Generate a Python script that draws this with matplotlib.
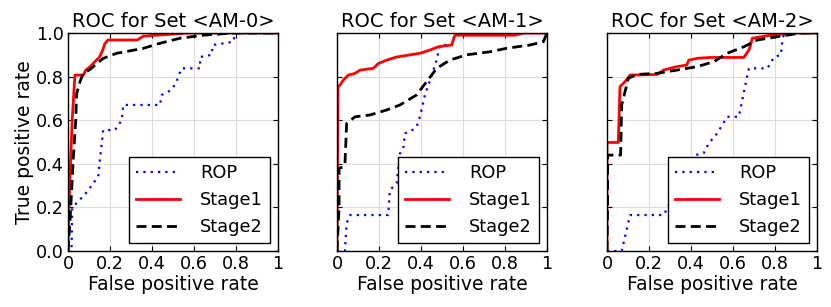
import matplotlib
matplotlib.use("Agg")
import matplotlib.pyplot as plt

# panel titles and axis text
titles = ["ROC for Set <AM-0>", "ROC for Set <AM-1>", "ROC for Set <AM-2>"]
x_ticks = [0, 0.2, 0.4, 0.6, 0.8, 1.0]
x_ticklabels = ["0", "0.2", "0.4", "0.6", "0.8", "1"]
y_ticks = [0, 0.2, 0.4, 0.6, 0.8, 1.0]
y_ticklabels = ["0.0", "0.2", "0.4", "0.6", "0.8", "1.0"]
series_names = ["ROP", "Stage1", "Stage2"]

# AM-0
rop0_fpr = [0, 0.017, 0.02, 0.041, 0.081, 0.12, 0.144, 0.152, 0.168, 0.224, 0.256, 0.263,
            0.438, 0.446, 0.494, 0.517, 0.54, 0.629, 0.629, 0.684, 0.69, 0.787, 0.795, 0.8, 1.0]
rop0_tpr = [0, 0, 0.2, 0.22, 0.26, 0.31, 0.34, 0.42, 0.555, 0.555, 0.6, 0.67,
            0.67, 0.715, 0.74, 0.777, 0.838, 0.838, 0.89, 0.9, 0.945, 0.96, 0.99, 1.0, 1.0]
st1_0_fpr = [0, 0.005, 0.01, 0.02, 0.033, 0.073, 0.085, 0.105, 0.13, 0.15, 0.165, 0.175,
             0.19, 0.33, 0.36, 0.42, 0.5, 0.565, 1.0]
st1_0_tpr = [0, 0.2, 0.356, 0.6, 0.807, 0.807, 0.83, 0.845, 0.87, 0.89, 0.92, 0.95,
             0.968, 0.968, 0.986, 0.99, 0.995, 1.0, 1.0]
st2_0_fpr = [0, 0.01, 0.025, 0.037, 0.041, 0.057, 0.073, 0.105, 0.137, 0.168, 0.232,
             0.359, 0.438, 0.533, 0.644, 0.787, 1.0]
st2_0_tpr = [0, 0.14, 0.42, 0.6, 0.72, 0.777, 0.815, 0.833, 0.86, 0.884, 0.907,
             0.93, 0.953, 0.976, 0.99, 1.0, 1.0]

# AM-1
rop1_fpr = [0, 0.038, 0.046, 0.062, 0.244, 0.252, 0.284, 0.3, 0.316, 0.324, 0.348, 0.379,
            0.395, 0.419, 0.443, 0.475, 0.49, 0.546, 0.562, 1.0]
rop1_tpr = [0, 0, 0.127, 0.165, 0.165, 0.28, 0.31, 0.448, 0.47, 0.54, 0.547, 0.57,
            0.616, 0.716, 0.784, 0.876, 0.945, 0.945, 1.0, 1.0]
st1_1_fpr = [0, 0.005, 0.014, 0.03, 0.054, 0.086, 0.11, 0.173, 0.197, 0.237, 0.284, 0.348,
             0.395, 0.443, 0.483, 0.546, 0.562, 0.848, 0.887, 1.0]
st1_1_tpr = [0, 0.754, 0.76, 0.784, 0.807, 0.815, 0.83, 0.838, 0.86, 0.876, 0.89, 0.9,
             0.907, 0.922, 0.937, 0.945, 0.99, 0.99, 1.0, 1.0]
st2_1_fpr = [0, 0.01, 0.01, 0.03, 0.038, 0.046, 0.086, 0.157, 0.237, 0.3, 0.379, 0.427,
             0.475, 0.538, 0.617, 0.729, 0.808, 0.919, 0.983, 1.0]
st2_1_tpr = [0, 0.2, 0.38, 0.385, 0.4, 0.585, 0.616, 0.624, 0.647, 0.67, 0.716, 0.777,
             0.838, 0.876, 0.9, 0.914, 0.93, 0.945, 0.96, 1.0]

# AM-2
rop2_fpr = [0, 0.07, 0.086, 0.11, 0.27, 0.3, 0.35, 0.4, 0.421, 0.46, 0.485, 0.525, 0.573,
            0.628, 0.652, 0.676, 0.764, 0.796, 0.828, 0.836, 0.844, 1.0]
rop2_tpr = [0, 0, 0.066, 0.165, 0.165, 0.22, 0.3, 0.4, 0.44, 0.448, 0.494, 0.54, 0.616,
            0.616, 0.73, 0.838, 0.838, 0.89, 0.9, 0.968, 1.0, 1.0]
st1_2_fpr = [0, 0, 0.054, 0.062, 0.086, 0.11, 0.238, 0.27, 0.333, 0.38, 0.39, 0.43, 0.493,
             0.652, 0.676, 0.684, 0.692, 0.78, 0.89, 1.0]
st1_2_tpr = [0, 0.498, 0.498, 0.754, 0.777, 0.807, 0.81, 0.83, 0.846, 0.853, 0.876, 0.884,
             0.888, 0.888, 0.922, 0.945, 0.976, 0.99, 1.0, 1.0]
st2_2_fpr = [0, 0.003, 0.003, 0.065, 0.07, 0.102, 0.142, 0.238, 0.333, 0.43, 0.51, 0.572,
             0.652, 0.716, 0.81, 0.923, 1.0]
st2_2_tpr = [0, 0.2, 0.44, 0.44, 0.67, 0.792, 0.81, 0.815, 0.83, 0.846, 0.869, 0.907,
             0.937, 0.968, 0.983, 1.0, 1.0]

panels = [
    [(rop0_fpr, rop0_tpr), (st1_0_fpr, st1_0_tpr), (st2_0_fpr, st2_0_tpr)],
    [(rop1_fpr, rop1_tpr), (st1_1_fpr, st1_1_tpr), (st2_1_fpr, st2_1_tpr)],
    [(rop2_fpr, rop2_tpr), (st1_2_fpr, st1_2_tpr), (st2_2_fpr, st2_2_tpr)],
]
styles = [
    dict(color="b", linestyle=(0, (1, 2.3)), linewidth=1.6),
    dict(color="r", linestyle="-", linewidth=2),
    dict(color="k", linestyle=(0, (3.6, 1.9)), linewidth=2),
]

plt.rcParams["font.family"] = ["DejaVu Sans"]
plt.rcParams["font.size"] = 13
plt.rcParams["xtick.labelsize"] = 12.7
plt.rcParams["ytick.labelsize"] = 12.7
plt.rcParams["xtick.direction"] = "in"
plt.rcParams["ytick.direction"] = "in"
plt.rcParams["xtick.top"] = True
plt.rcParams["ytick.right"] = True
plt.rcParams["xtick.major.size"] = 3.5
plt.rcParams["ytick.major.size"] = 3.5

fig = plt.figure(figsize=(8.31, 3.07), dpi=100)
lefts = [0.0818, 0.4055, 0.7304]

for k in range(3):
    ax = fig.add_axes([lefts[k], 0.1824, 0.2527, 0.710])
    for (fpr, tpr), name, st in zip(panels[k], series_names, styles):
        ax.plot(fpr, tpr, label=name, **st)

    ax.set_xlim(0, 1)
    ax.set_ylim(0, 1)
    ax.set_xticks(x_ticks)
    ax.set_xticklabels(x_ticklabels)
    ax.set_yticks(y_ticks)
    if k == 0:
        ax.set_yticklabels(y_ticklabels)
        ax.set_ylabel("True positive rate", fontsize=13.5, labelpad=1)
    else:
        ax.set_yticklabels([])
    ax.set_xlabel("False positive rate", fontsize=13.5, labelpad=1)
    ax.set_title(titles[k], fontsize=14, pad=4)
    ax.grid(True, color="#dddddd", linewidth=0.8)
    ax.set_axisbelow(True)
    ax.tick_params(pad=3)
    for sp in ax.spines.values():
        sp.set_linewidth(1.0)

    leg = ax.legend(loc="lower right", fancybox=False, framealpha=1, fontsize=12.8,
                    edgecolor="black", handlelength=2.5, borderaxespad=0.45,
                    labelspacing=0.5, handletextpad=1.1, borderpad=0.4)
    leg.get_frame().set_linewidth(1.0)

fig.savefig("out.png", dpi=100)
